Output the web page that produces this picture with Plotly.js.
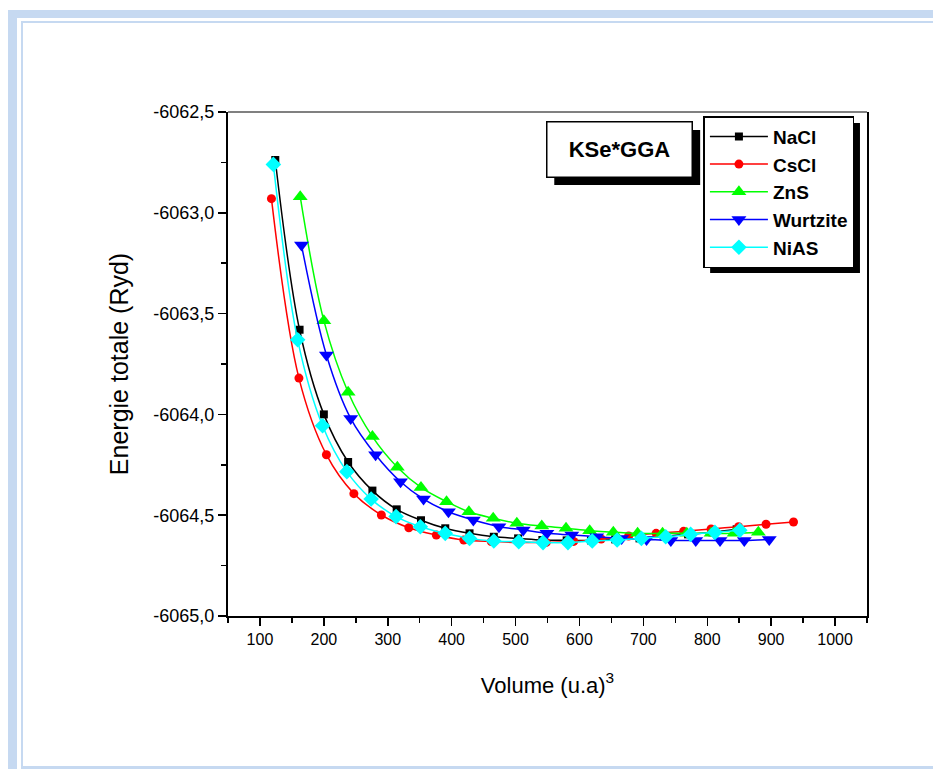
<!DOCTYPE html>
<html><head><meta charset="utf-8">
<script src="https://cdn.plot.ly/plotly-3.0.1.min.js"></script>
<style>
html,body{margin:0;padding:0;background:#fff;}
#wrap{position:relative;width:933px;height:769px;overflow:hidden;}
.fr{position:absolute;background:#c6d9f1;}
#chart{position:absolute;left:0;top:0;width:933px;height:769px;}
</style></head><body>
<div id="wrap">
<div class="fr" style="left:8px;top:10px;width:925px;height:8px"></div>
<div class="fr" style="left:8px;top:10px;width:9px;height:759px"></div>
<div class="fr" style="left:21px;top:21px;width:912px;height:2px"></div>
<div class="fr" style="left:21px;top:21px;width:2px;height:748px"></div>
<div class="fr" style="left:21px;top:766px;width:912px;height:3px"></div>
<div id="chart"></div>
</div>
<script>
// Series names
const seriesNames = ["NaCl", "CsCl", "ZnS", "Wurtzite", "NiAS"];

// NaCl
const naclV = [124,162,200,238,276,314,352,390,428,466,504,542,580,618,656,694,732,770,808,846];
const naclE = [-6062.738,-6063.58,-6064.00,-6064.236,-6064.378,-6064.471,-6064.525,-6064.565,-6064.59,-6064.607,-6064.615,-6064.623,-6064.625,-6064.625,-6064.62,-6064.615,-6064.605,-6064.595,-6064.585,-6064.57];

// CsCl
const csclV = [118,161,204,247,290,333,376,419,462,505,548,591,634,677,720,763,806,849,892,935];
const csclE = [-6062.93,-6063.82,-6064.20,-6064.393,-6064.499,-6064.562,-6064.598,-6064.623,-6064.631,-6064.635,-6064.635,-6064.63,-6064.618,-6064.603,-6064.59,-6064.58,-6064.568,-6064.557,-6064.545,-6064.534];

// ZnS
const znsV = [163,200,238,276,315,352,392,427,465,502,541,579,616,653,691,730,768,806,842,880];
const znsE = [-6062.92,-6063.535,-6063.89,-6064.11,-6064.262,-6064.362,-6064.433,-6064.483,-6064.515,-6064.54,-6064.554,-6064.565,-6064.577,-6064.585,-6064.59,-6064.59,-6064.59,-6064.59,-6064.59,-6064.585];

// Wurtzite
const wurV = [165,204,242,281,320,356,395,434,474,512,549,588,627,666,705,743,782,820,858,897];
const wurE = [-6063.16,-6063.705,-6064.02,-6064.20,-6064.334,-6064.42,-6064.483,-6064.524,-6064.557,-6064.573,-6064.59,-6064.598,-6064.607,-6064.615,-6064.62,-6064.625,-6064.625,-6064.625,-6064.625,-6064.62];

// NiAS
const niasV = [121,159,198,236,274,313,351,390,428,466,505,543,582,620,659,697,735,774,812,851];
const niasE = [-6062.76,-6063.63,-6064.056,-6064.284,-6064.42,-6064.507,-6064.557,-6064.59,-6064.615,-6064.628,-6064.632,-6064.636,-6064.636,-6064.628,-6064.623,-6064.615,-6064.607,-6064.595,-6064.585,-6064.575];

// Tick labels
const xTickVals = [100,200,300,400,500,600,700,800,900,1000];
const xTickText = ["100","200","300","400","500","600","700","800","900","1000"];
const yTickVals = [-6065.0,-6064.5,-6064.0,-6063.5,-6063.0,-6062.5];
const yTickText = ["-6065,0","-6064,5","-6064,0","-6063,5","-6063,0","-6062,5"];

const FONT = "Liberation Sans, Arial, Helvetica, sans-serif";

const styles = [
  {color:"#000000", symbol:"square", size:8},
  {color:"#ff0000", symbol:"circle", size:9},
  {color:"#00ff00", symbol:"triangle-up", size:13},
  {color:"#0000ff", symbol:"triangle-down", size:13},
  {color:"#00ffff", symbol:"diamond", size:12}
];
const xs = [naclV, csclV, znsV, wurV, niasV];
const ys = [naclE, csclE, znsE, wurE, niasE];

const traces = seriesNames.map((n,i)=>({
  type:"scatter", mode:"lines+markers", name:n,
  x: xs[i], y: ys[i],
  line:{color:styles[i].color, width:1.5, shape:"spline", smoothing:1},
  marker:{color:styles[i].color, symbol:styles[i].symbol, size:styles[i].size, line:{width:0}}
}));

const layout = {
  width:933, height:769,
  margin:{l:227.5, r:66, t:112, b:153, pad:0},
  paper_bgcolor:"rgba(0,0,0,0)",
  plot_bgcolor:"#ffffff",
  showlegend:true,
  font:{family:FONT, color:"#000"},
  xaxis:{
    range:[50,1050], autorange:false,
    tickmode:"array", tickvals:xTickVals, ticktext:xTickText,
    ticks:"outside", ticklen:8, tickwidth:1.5, tickcolor:"#000",
    minor:{dtick:50, tick0:0, ticks:"outside", ticklen:5, tickwidth:1.5, tickcolor:"#000", showgrid:false},
    showline:true, linecolor:"#000", linewidth:2, mirror:false,
    showgrid:false, zeroline:false,
    tickfont:{family:FONT, size:16, color:"#000"},
    title:{text:"Volume (u.a)<sup>3</sup>", font:{family:FONT, size:22, color:"#000"}, standoff:30},
    automargin:false
  },
  yaxis:{
    range:[-6065,-6062.5], autorange:false,
    tickmode:"array", tickvals:yTickVals, ticktext:yTickText,
    ticks:"outside", ticklen:8, tickwidth:1.5, tickcolor:"#000",
    minor:{dtick:0.25, tick0:-6065, ticks:"outside", ticklen:5, tickwidth:1.5, tickcolor:"#000", showgrid:false},
    showline:true, linecolor:"#000", linewidth:2, mirror:true,
    showgrid:false, zeroline:false,
    tickfont:{family:FONT, size:18, color:"#000"},
    title:{text:"Energie totale (Ryd)", font:{family:FONT, size:25, color:"#000"}, standoff:18},
    automargin:false
  },
  legend:{
    x:0.744, y:0.992, xanchor:"left", yanchor:"top",
    bgcolor:"#ffffff", bordercolor:"#000", borderwidth:1.5,
    font:{family:FONT, size:19, color:"#000", weight:"bold"},
    itemwidth:58, tracegroupgap:0
  },
  shapes:[
    {type:"line", xref:"paper", yref:"paper", x0:0, x1:1, y0:1, y1:1, line:{color:"#808080", width:2}},
    {type:"rect", xref:"paper", yref:"paper", x0:0.5106, x1:0.7389, y0:0.8552, y1:0.9643, fillcolor:"#000", line:{width:0}, layer:"above"},
    {type:"rect", xref:"paper", yref:"paper", x0:0.7545, x1:0.9890, y0:0.6806, y1:0.9782, fillcolor:"#000", line:{width:0}, layer:"above"}
  ],
  annotations:[
    {xref:"paper", yref:"paper", x:0.612, y:0.925, xanchor:"center", yanchor:"middle",
     text:"KSe*GGA", showarrow:false, width:140, height:50, borderpad:2,
     bgcolor:"#ffffff", bordercolor:"#000", borderwidth:1.5,
     font:{family:FONT, size:22, color:"#000", weight:"bold"}}
  ]
};

Plotly.newPlot("chart", traces, layout, {displayModeBar:false, staticPlot:true});
</script>
</body></html>
